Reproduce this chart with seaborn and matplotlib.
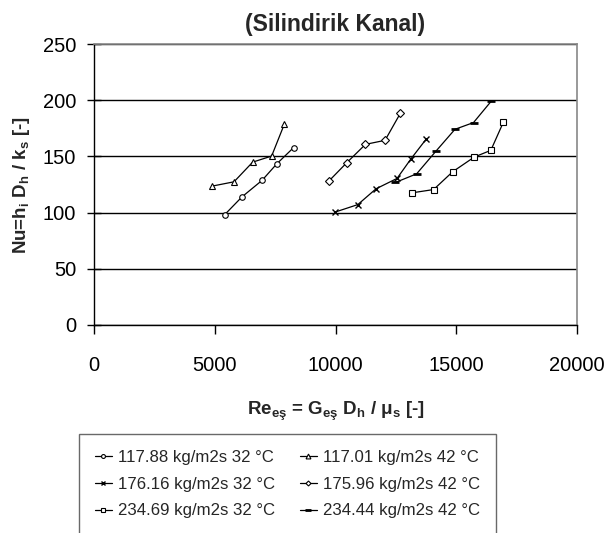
import matplotlib
matplotlib.use("Agg")
import matplotlib.pyplot as plt
import seaborn as sns
import pandas as pd

# ---- data ----
labels = ["117.88 kg/m2s 32 °C", "117.01 kg/m2s 42 °C",
          "176.16 kg/m2s 32 °C", "175.96 kg/m2s 42 °C",
          "234.69 kg/m2s 32 °C", "234.44 kg/m2s 42 °C"]

re_1 = [5413, 6128, 6955, 7574, 8264]
nu_1 = [98.2, 114.0, 128.6, 143.5, 157.8]

re_2 = [4876, 5798, 6570, 7355, 7880]
nu_2 = [123.5, 127.4, 144.9, 150.3, 178.6]

re_3 = [9959, 10922, 11680, 12548, 13128, 13748]
nu_3 = [100.3, 107.1, 121.2, 130.4, 147.9, 165.2]

re_4 = [9723, 10467, 11240, 12052, 12686]
nu_4 = [128.0, 144.4, 160.7, 164.3, 188.4]

re_5 = [13168, 14062, 14849, 15744, 16432, 16955]
nu_5 = [117.6, 120.5, 136.3, 149.4, 155.4, 180.6]

re_6 = [12479, 13360, 14161, 14946, 15715, 16459]
nu_6 = [126.8, 134.5, 154.7, 174.1, 180.1, 199.4]

x_ticks = [0, 5000, 10000, 15000, 20000]
y_ticks = [0, 50, 100, 150, 200, 250]

series_x = [re_1, re_2, re_3, re_4, re_5, re_6]
series_y = [nu_1, nu_2, nu_3, nu_4, nu_5, nu_6]
markers = ["o", "^", "x", "D", "s", "_"]
msizes = [4, 5, 5, 3.6, 5, 6]

sns.set_theme(style="white")
plt.rcParams["font.family"] = ["Liberation Sans", "DejaVu Sans"]
plt.rcParams["mathtext.fontset"] = "custom"
plt.rcParams["mathtext.rm"] = "Liberation Sans:bold"
plt.rcParams["mathtext.it"] = "Liberation Sans:bold"
plt.rcParams["mathtext.bf"] = "Liberation Sans:bold"
plt.rcParams["mathtext.sf"] = "Liberation Sans:bold"

fig = plt.figure(figsize=(6.08, 5.33), dpi=100)
ax = fig.add_axes([94 / 608, 1 - 325 / 533, (577 - 94) / 608, (325 - 44) / 533])

for i in range(6):
    df = pd.DataFrame({"x": series_x[i], "y": series_y[i]})
    mk = markers[i]
    kw = dict(marker=mk, markersize=msizes[i], color="black", linewidth=0.9,
              markeredgecolor="black", markeredgewidth=0.8)
    if mk in ("x", "_"):
        kw["markeredgewidth"] = 1.0 if mk == "x" else 2.0
    else:
        kw["markerfacecolor"] = "white"
    sns.lineplot(data=df, x="x", y="y", ax=ax, label=labels[i], **kw)

ax.set_xlim(0, 20000)
ax.set_ylim(0, 250)
ax.set_xticks(x_ticks)
ax.set_yticks(y_ticks)
ax.tick_params(axis="both", labelsize=14.5, colors="black", width=1)
ax.tick_params(axis="y", direction="inout", length=9.5, left=True, pad=8)
ax.tick_params(axis="x", direction="out", length=6.5, bottom=True, pad=16)
ax.yaxis.grid(True, color="black", linewidth=1)
ax.xaxis.grid(False)
for s in ["top", "right"]:
    ax.spines[s].set_color("#888888")
    ax.spines[s].set_linewidth(1.2)
ax.spines["left"].set_color("black")
ax.spines["bottom"].set_color("black")
ax.spines["left"].set_linewidth(1)
ax.spines["bottom"].set_linewidth(1)

ax.set_title("(Silindirik Kanal)", fontsize=16.5, fontweight="bold", pad=9)
ax.set_xlabel(r"Re$_{\mathrm{eş}}$ = G$_{\mathrm{eş}}$ D$_{\mathrm{h}}$ / $\mu_{\mathrm{s}}$ [-]",
              fontsize=13.5, fontweight="bold", labelpad=18)
ax.set_ylabel(r"Nu=h$_{\mathrm{i}}$ D$_{\mathrm{h}}$ / k$_{\mathrm{s}}$ [-]",
              fontsize=13.5, fontweight="bold", labelpad=8)

handles, labs = ax.get_legend_handles_labels()
if ax.get_legend():
    ax.get_legend().remove()
order = [0, 2, 4, 1, 3, 5]
leg = fig.legend([handles[k] for k in order], [labs[k] for k in order],
                 ncol=2, loc="upper left", bbox_to_anchor=(79 / 608, 1 - 434 / 533),
                 fontsize=12.1, frameon=True, fancybox=False, edgecolor="#444444",
                 handlelength=1.0, handletextpad=0.35, columnspacing=1.5,
                 borderpad=0.95, labelspacing=0.7, markerscale=0.7,
                 borderaxespad=0)
leg.get_frame().set_linewidth(1.0)

fig.savefig("out.png", dpi=100)
